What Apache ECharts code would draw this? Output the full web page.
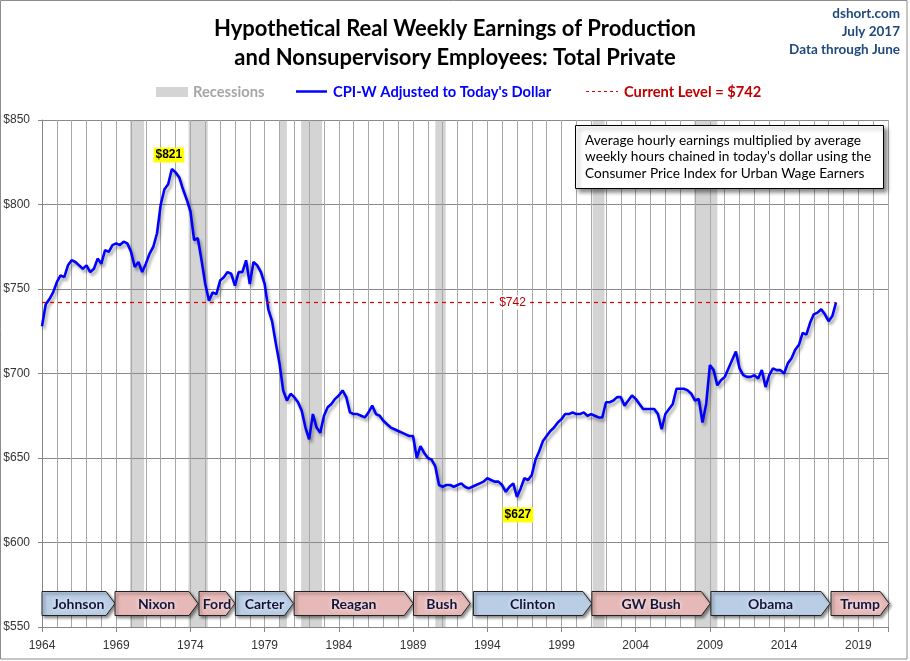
<!DOCTYPE html>
<html><head><meta charset="utf-8">
<script src="https://cdn.jsdelivr.net/npm/echarts@6/dist/echarts.min.js"></script>
<style>html,body{margin:0;padding:0;background:#fff}#c{width:910px;height:661px}</style>
</head><body><div id="c"></div>
<script>
// Quarterly readings starting 1964.0 (real weekly earnings, today's dollars)
const startYear = 1964;
const stepYears = 0.25;
const values = [
  728,741,744,748, 754,758,757,764, 767,766,764,762, 764,760,762,768,
  765,773,772,776, 777,776,778,777, 772,763,766,760, 765,771,775,783,
  800,809,812,821, 819,816,809,803, 796,779,780,767, 753,743,748,747,
  755,757,760,759, 752,760,760,767, 753,766,764,760, 753,738,731,718,
  706,690,684,688, 686,683,678,668, 661,676,668,665, 675,680,682,685,
  687,690,686,677, 676,676,675,674, 677,681,676,675, 672,670,668,667,
  666,665,664,663, 663,650,657,653, 650,649,645,634, 633,634,634,633,
  634,635,633,632, 633,634,635,636, 638,637,636,636, 634,630,633,635,
  627,632,638,637, 640,649,654,660, 663,666,668,671, 673,676,676,677,
  676,676,677,675, 676,675,674,674, 683,683,684,686, 686,681,684,687,
  685,682,679,679, 679,679,676,667, 676,679,682,691, 691,691,690,688,
  684,685,671,682, 705,702,693,696, 698,703,708,713, 703,699,698,698,
  699,697,702,692, 699,703,702,702, 700,706,709,714, 717,724,723,730,
  735,736,738,735, 731,734,742
];
const currentLevel = 742;
const recessions = [
  [1969.93,1970.88],[1973.87,1975.17],[1980.0,1980.5],[1981.46,1982.87],
  [1990.5,1991.2],[2001.1,2001.9],[2007.95,2009.5]
];
const presidents = ['Johnson','Nixon','Ford','Carter','Reagan','Bush','Clinton','GW Bush','Obama','Trump'];
const termStart  = [1964.0,1968.92,1974.58,1977.03,1980.99,1989.03,1993.07,2001.05,2009.07,2017.16];
const termEnd    = [1968.92,1974.51,1977.0,1980.94,1989.01,1992.85,2001.05,2009.03,2017.1,2021.08];
const party      = ['D','R','R','D','R','R','D','R','D','R'];
const yTicks = { min: 550, max: 850, step: 50 };
const xRange = { min: 1964, max: 2021 };
const noteLines = [
  'Average hourly earnings multiplied by average',
  "weekly hours chained in today's dollar using the",
  'Consumer Price Index for Urban Wage Earners'
];

const lineData = values.map((v, i) => [startYear + i * stepYears, v]);
const lastYear = lineData[lineData.length - 1][0];

const chart = echarts.init(document.getElementById('c'), null, { renderer: 'canvas' });
const FONT = 'Lato, "Liberation Sans", sans-serif';

const option = {
  animation: false,
  backgroundColor: '#ffffff',
  title: {
    text: 'Hypothetical Real Weekly Earnings of Production\nand Nonsupervisory Employees: Total Private',
    left: 'center', top: 9,
    textStyle: { fontFamily: FONT, fontSize: 22, fontWeight: 'bold', color: '#000', lineHeight: 29.5 }
  },
  grid: { left: 42, right: 22, top: 120, bottom: 34 },
  xAxis: [{
    type: 'value', min: xRange.min, max: xRange.max, interval: 1,
    axisLine: { show: true, lineStyle: { color: '#868686' } },
    axisTick: { show: false },
    axisLabel: {
      margin: 13, color: '#333', fontSize: 12, fontFamily: '"Liberation Sans", sans-serif',
      formatter: v => ((v - xRange.min) % 5 === 0 && v < xRange.max) ? String(v) : ''
    },
    splitLine: { show: true, lineStyle: { color: '#a8a8a8', width: 1 } }
  }, {
    type: 'value', min: xRange.min, max: xRange.max, interval: 5, position: 'bottom',
    axisLine: { show: false },
    axisTick: { show: true, length: 5, lineStyle: { color: '#868686' } },
    axisLabel: { show: false },
    splitLine: { show: false }
  }],
  yAxis: {
    type: 'value', min: yTicks.min, max: yTicks.max, interval: yTicks.step,
    axisLine: { show: true, lineStyle: { color: '#868686' } },
    axisTick: { show: true, length: 4, lineStyle: { color: '#868686' } },
    axisLabel: { margin: 12, color: '#333', fontSize: 12, fontFamily: '"Liberation Sans", sans-serif', formatter: v => '$' + v },
    splitLine: { show: true, lineStyle: { color: '#8a8a8a', width: 1 } }
  },
  series: [
    {
      name: 'Recessions', type: 'custom', z: -1, clip: true,
      data: recessions,
      renderItem: (params, api) => {
        const cs = params.coordSys;
        const x0 = api.coord([api.value(0), yTicks.min])[0];
        const x1 = api.coord([api.value(1), yTicks.min])[0];
        return { type: 'rect', shape: { x: x0, y: cs.y, width: x1 - x0, height: cs.height },
                 style: { fill: '#d4d4d4' } };
      }
    },
    {
      name: "CPI-W Adjusted to Today's Dollar", type: 'line', z: 3,
      data: lineData, showSymbol: false, symbol: 'none',
      lineStyle: { color: '#0000ff', width: 2.6, shadowColor: 'rgba(0,0,0,0.35)', shadowBlur: 3, shadowOffsetX: 2, shadowOffsetY: 3 },
      markLine: {
        silent: true, symbol: 'none',
        lineStyle: { color: '#e00000', type: [4, 4], width: 1.2 },
        label: { show: false },
        data: [[{ coord: [startYear, currentLevel] }, { coord: [lastYear, currentLevel] }]]
      },
      markPoint: {
        symbol: 'circle', symbolSize: 1, itemStyle: { color: 'rgba(0,0,0,0)' },
        label: {
          show: true, position: 'inside', formatter: p => '$' + p.value,
          backgroundColor: '#ffff00', color: '#000', fontWeight: 'bold', fontSize: 12,
          fontFamily: '"Liberation Sans", sans-serif', padding: [2, 2, 1, 2]
        },
        data: [
          { type: 'max', label: { offset: [-3, -14] } },
          { type: 'min', label: { offset: [1, 18] } },
          { coord: [1995.7, currentLevel], value: currentLevel,
            label: { backgroundColor: '#fff', color: '#c00000', fontWeight: 'normal', padding: [1, 3, 1, 3] } }
        ]
      }
    },
    {
      name: 'Presidents', type: 'custom', z: 5, clip: false,
      data: presidents.map((n, i) => [termStart[i], termEnd[i], i]),
      renderItem: (params, api) => {
        const cs = params.coordSys;
        const i = api.value(2);
        const x0 = api.coord([api.value(0), yTicks.min])[0];
        const x1 = api.coord([api.value(1), yTicks.min])[0];
        const bottom = cs.y + cs.height;
        const top = bottom - 35.5, bot = bottom - 11.5, mid = (top + bot) / 2;
        const tip = 9;
        return {
          type: 'group',
          children: [
            { type: 'polygon',
              shape: { points: [[x0, top], [x1 - tip, top], [x1, mid], [x1 - tip, bot], [x0, bot]] },
              style: { fill: party[i] === 'D' ? '#b9cde5' : '#e6b9b8', stroke: '#222', lineWidth: 1,
                       shadowColor: 'rgba(0,0,0,0.45)', shadowBlur: 3, shadowOffsetX: 2, shadowOffsetY: 2 } },
            { type: 'text', x: (x0 + x1) / 2, y: mid + 1,
              style: { text: presidents[i], fill: '#14143a', font: 'bold 14px ' + FONT,
                       align: 'center', verticalAlign: 'middle',
                       textShadowColor: 'rgba(255,255,255,1)', textShadowBlur: 4 } }
          ]
        };
      }
    }
  ],
  graphic: [
    { type: 'rect', shape: { x: 0.5, y: 0.5, width: 906.5, height: 658.5 }, style: { fill: 'none', stroke: '#8c8c8c', lineWidth: 1 }, z: 100, silent: true },
    { type: 'text', right: 10, top: 7, style: { text: 'dshort.com', fill: '#1f497d', font: 'bold 13.5px ' + FONT, align: 'right' } },
    { type: 'text', right: 10, top: 25, style: { text: 'July 2017', fill: '#1f497d', font: 'bold 13.5px ' + FONT, align: 'right' } },
    { type: 'text', right: 10, top: 43, style: { text: 'Data through June', fill: '#1f497d', font: 'bold 13.5px ' + FONT, align: 'right' } },
    // legend
    { type: 'rect', shape: { x: 156, y: 87, width: 32, height: 10 }, style: { fill: '#d4d4d4' } },
    { type: 'text', x: 193, y: 92, style: { text: 'Recessions', fill: '#a6a6a6', font: 'bold 14.7px ' + FONT, verticalAlign: 'middle' } },
    { type: 'line', shape: { x1: 296, y1: 91.5, x2: 327, y2: 91.5 }, style: { stroke: '#0000ff', lineWidth: 2.5 } },
    { type: 'text', x: 333, y: 92, style: { text: "CPI-W Adjusted to Today's Dollar", fill: '#0000ff', font: 'bold 14.7px ' + FONT, verticalAlign: 'middle' } },
    { type: 'line', shape: { x1: 586, y1: 91.5, x2: 618, y2: 91.5 }, style: { stroke: '#e00000', lineWidth: 1.2, lineDash: [3, 3] } },
    { type: 'text', x: 624, y: 92, style: { text: 'Current Level = $742', fill: '#c00000', font: 'bold 14.7px ' + FONT, verticalAlign: 'middle' } },
    // note box
    { type: 'rect', z: 50, shape: { x: 575.5, y: 125.5, width: 308, height: 63 },
      style: { fill: '#fff', stroke: '#000', lineWidth: 1, shadowColor: 'rgba(0,0,0,0.45)', shadowBlur: 4, shadowOffsetX: 3, shadowOffsetY: 3 } },
    { type: 'text', z: 51, x: 585, y: 132, style: { text: noteLines.join('\n'), fill: '#000', font: '13.7px ' + FONT, lineHeight: 16.5 } }
  ]
};
chart.setOption(option);
</script>
</body></html>
